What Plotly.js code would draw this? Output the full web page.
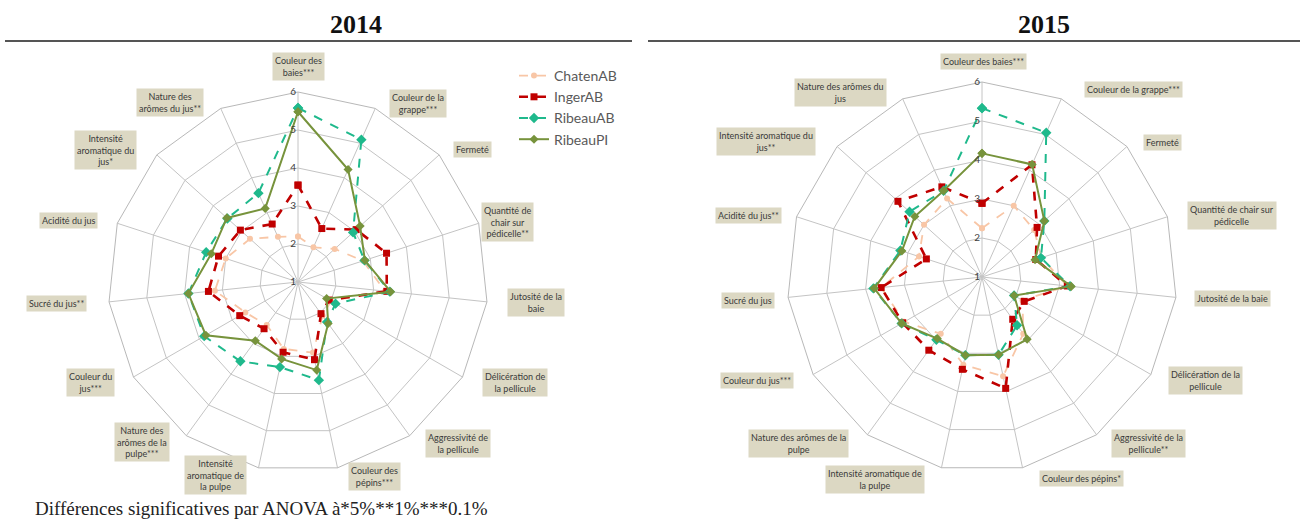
<!DOCTYPE html>
<html>
<head>
<meta charset="utf-8">
<script src="https://cdn.plot.ly/plotly-3.0.1.min.js"></script>
<style>html,body{margin:0;padding:0;background:#fff;}#chart{width:1300px;height:519px;}</style>
</head>
<body>
<div id="chart"></div>
<script>
// ---------- DATA ----------
const categories2014 = ["Couleur des baies***","Couleur de la grappe***","Fermeté","Quantité de chair sur pédicelle**","Jutosité de la baie","Délicération de la pellicule","Aggressivité de la pellicule","Couleur des pépins***","Intensité aromatique de la pulpe","Nature des arômes de la pulpe***","Couleur du jus***","Sucré du jus**","Acidité du jus","Intensité aromatique du jus*","Nature des arômes du jus**"];
const labels2014 = ["Couleur des<br>baies***","Couleur de la<br>grappe***","Fermeté","Quantité de<br>chair sur<br>pédicelle**","Jutosité de la<br>baie","Délicération de<br>la pellicule","Aggressivité de<br>la pellicule","Couleur des<br>pépins***","Intensité<br>aromatique de<br>la pulpe","Nature des<br>arômes de la<br>pulpe***","Couleur du<br>jus***","Sucré du jus**","Acidité du jus","Intensité<br>aromatique du<br>jus*","Nature des<br>arômes du jus**"];
const categories2015 = ["Couleur des baies***","Couleur de la grappe***","Fermeté","Quantité de chair sur pédicelle","Jutosité de la baie","Délicération de la pellicule","Aggressivité de la pellicule**","Couleur des pépins*","Intensité aromatique de la pulpe","Nature des arômes de la pulpe","Couleur du jus***","Sucré du jus","Acidité du jus**","Intensité aromatique du jus**","Nature des arômes du jus"];
const labels2015 = ["Couleur des baies***","Couleur de la grappe***","Fermeté","Quantité de chair sur<br>pédicelle","Jutosité de la baie","Délicération de la<br>pellicule","Aggressivité de la<br>pellicule**","Couleur des pépins*","Intensité aromatique de<br>la pulpe","Nature des arômes de la<br>pulpe","Couleur du jus***","Sucré du jus","Acidité du jus**","Intensité aromatique du<br>jus**","Nature des arômes du<br>jus"];
const seriesNames = ["ChatenAB","IngerAB","RibeauAB","RibeauPI"];

const chatenAB2014 = [2.2, 2.0, 2.3, 2.8, 3.3, 2.0, 2.1, 2.9, 2.8, 2.4, 2.6, 3.2, 3.0, 2.7, 2.3];
const ingerAB2014  = [3.55, 2.54, 3.06, 3.45, 3.35, 1.95, 2.03, 3.09, 2.89, 2.52, 2.77, 3.37, 3.2, 3.04, 2.67];
const ribeauAB2014 = [5.58, 5.1, 2.95, 2.84, 3.43, 2.14, 2.3, 3.64, 3.29, 3.58, 3.85, 3.9, 3.54, 3.5, 3.56];
const ribeauPI2014 = [5.48, 4.24, 3.2, 2.85, 3.45, 1.87, 2.35, 3.37, 3.07, 2.91, 3.8, 3.9, 3.4, 3.52, 3.12];

const chatenAB2015 = [2.25, 3.0, 2.8, 2.6, 3.2, 2.2, 2.8, 3.6, 3.3, 2.8, 3.3, 3.6, 2.7, 3.0, 3.2];
const ingerAB2015  = [2.89, 4.15, 2.9, 2.45, 3.2, 2.25, 2.34, 3.92, 3.42, 3.32, 3.35, 3.6, 2.5, 3.9, 3.53];
const ribeauAB2015 = [5.33, 5.05, 3.15, 2.59, 3.27, 1.95, 2.53, 3.04, 3.05, 2.99, 3.38, 3.8, 3.2, 3.5, 3.42];
const ribeauPI2015 = [4.17, 4.16, 3.15, 2.43, 3.3, 1.95, 2.97, 3.04, 3.05, 2.95, 3.38, 3.78, 3.16, 3.32, 3.42];

const radialTicks = [1, 2, 3, 4, 5, 6];
const yearTitles = ["2014", "2015"];
const footnote = "Différences significatives par ANOVA à*5%**1%***0.1%";

// ---------- LAYOUT HELPERS ----------
const W = 1300, H = 519;
const px = x => x / W;
const py = y => 1 - y / H;

// label box centres (pixels)
const labelPos2014 = [[298,66],[418,103],[472,150],[507,222],[536,302],[515,382],[458,443],[375,476],[215,475],[142,442],[90,382],[56,303],[68,220],[106,150],[170,102]];
const labelPos2015 = [[983,62],[1133,89],[1162,142],[1232,215],[1232,298],[1205,380],[1148,443],[1081,478],[875,479],[798,443],[757,380],[748,300],[748,215],[766,141],[840,92]];

const styles = [
  {color:"#f8c6a6", dash:"dash", width:1.8, symbol:"circle", size:6},
  {color:"#c00000", dash:"dash", width:2.6, symbol:"square", size:7},
  {color:"#1fb98c", dash:"dash", width:2, symbol:"diamond", size:8},
  {color:"#77933c", dash:"solid", width:2, symbol:"diamond", size:7}
];

function closed(arr){ return arr.concat([arr[0]]); }

const traces = [];
const data2014 = [chatenAB2014, ingerAB2014, ribeauAB2014, ribeauPI2014];
const data2015 = [chatenAB2015, ingerAB2015, ribeauAB2015, ribeauPI2015];
[[data2014, categories2014, "polar", true],[data2015, categories2015, "polar2", false]].forEach(([sets, cats, sub, leg]) => {
  sets.forEach((vals, i) => {
    const s = styles[i];
    traces.push({
      type: "scatterpolar",
      subplot: sub,
      name: seriesNames[i],
      r: closed(vals),
      theta: closed(cats),
      mode: "lines+markers",
      line: {color: s.color, dash: s.dash, width: s.width},
      marker: {color: s.color, symbol: s.symbol, size: s.size},
      showlegend: leg,
      hoverinfo: "skip"
    });
  });
});

function polarAxes(cats, dom){
  return {
    domain: dom,
    bgcolor: "rgba(0,0,0,0)",
    gridshape: "linear",
    radialaxis: {
      range: [1, 6], tickvals: radialTicks, ticktext: radialTicks.map(String),
      angle: 90, tickangle: 90, side: "counterclockwise",
      showline: false, ticks: "", gridcolor: "#c4c4c4", gridwidth: 1,
      tickfont: {family: "Lato, 'Open Sans', sans-serif", size: 10, color: "#404040"}
    },
    angularaxis: {
      type: "category", categoryarray: cats, direction: "clockwise", rotation: 90,
      showticklabels: false, ticks: "", showline: true, linecolor: "#b8b8b8", linewidth: 1,
      gridcolor: "#c4c4c4", gridwidth: 1
    }
  };
}

const annotations = [];
function addLabels(lbls, pos){
  lbls.forEach((t, i) => {
    annotations.push({
      xref: "paper", yref: "paper", x: px(pos[i][0]), y: py(pos[i][1]),
      xanchor: "center", yanchor: "middle", text: t, showarrow: false,
      bgcolor: "#dcd8c3", borderpad: 2,
      font: {family: "Lato, 'Open Sans', sans-serif", size: 9, color: "#3a3a3a"}
    });
  });
}
addLabels(labels2014, labelPos2014);
addLabels(labels2015, labelPos2015);

annotations.push({xref:"paper", yref:"paper", x: px(356), y: py(25), xanchor:"center", yanchor:"middle", showarrow:false,
  text: "<b>" + yearTitles[0] + "</b>", font: {family: "'Liberation Serif', 'Times New Roman', serif", size: 26, color: "#111"}});
annotations.push({xref:"paper", yref:"paper", x: px(1044), y: py(25), xanchor:"center", yanchor:"middle", showarrow:false,
  text: "<b>" + yearTitles[1] + "</b>", font: {family: "'Liberation Serif', 'Times New Roman', serif", size: 26, color: "#111"}});
annotations.push({xref:"paper", yref:"paper", x: px(33), y: py(508), xanchor:"left", yanchor:"middle", showarrow:false,
  text: footnote, font: {family: "'Liberation Serif', 'Times New Roman', serif", size: 19, color: "#222"}});

const layout = {
  width: W, height: H,
  margin: {l:0, r:0, t:0, b:0},
  paper_bgcolor: "#ffffff",
  polar: polarAxes(categories2014, {x: [px(298-190), px(298+190)], y: [py(282+190), py(282-190)]}),
  polar2: polarAxes(categories2015, {x: [px(982-195), px(982+195)], y: [py(277+195), py(277-195)]}),
  showlegend: true,
  legend: {x: px(514), y: py(60), xanchor: "left", yanchor: "top", bgcolor: "rgba(0,0,0,0)",
    font: {family: "Lato, 'Open Sans', sans-serif", size: 14, color: "#595959"}, tracegroupgap: 0, itemwidth: 30},
  shapes: [
    {type:"line", xref:"paper", yref:"paper", x0: px(5), x1: px(632), y0: py(41), y1: py(41), line:{color:"#555", width:2}},
    {type:"line", xref:"paper", yref:"paper", x0: px(648), x1: px(1300), y0: py(41), y1: py(41), line:{color:"#555", width:2}}
  ],
  annotations: annotations
};

Plotly.newPlot("chart", traces, layout, {displayModeBar: false, staticPlot: true});
</script>
</body>
</html>
